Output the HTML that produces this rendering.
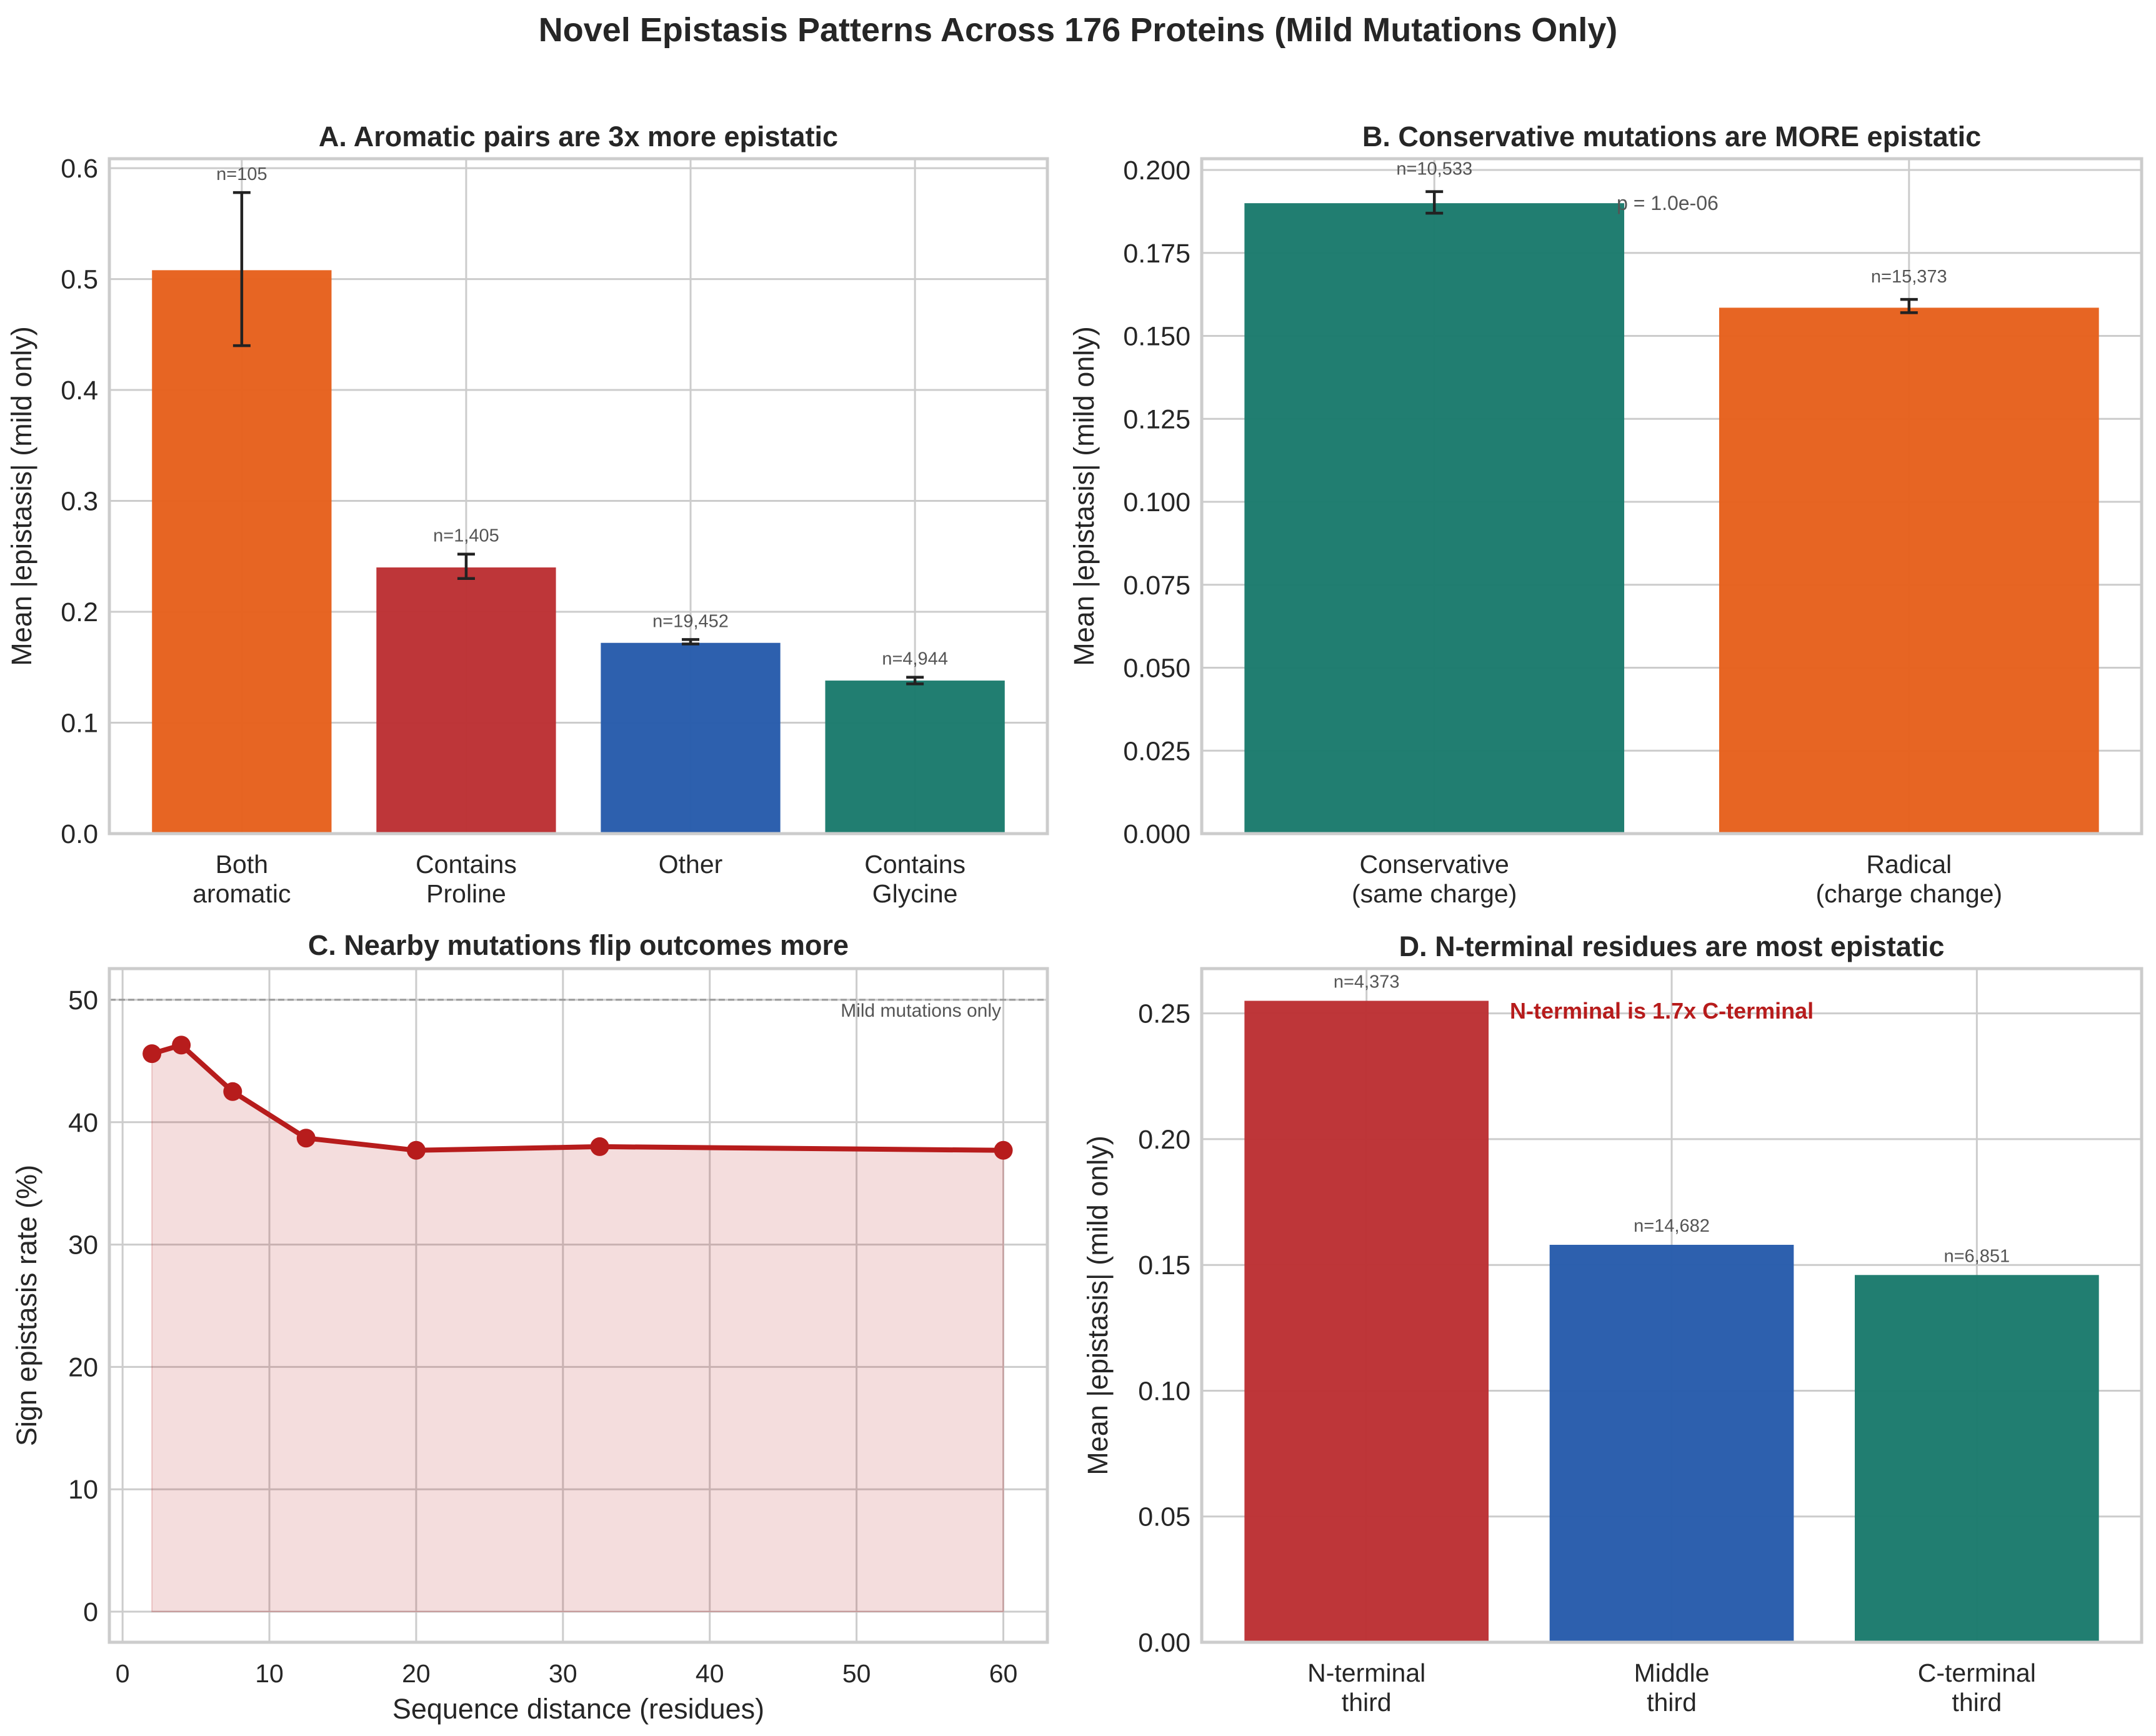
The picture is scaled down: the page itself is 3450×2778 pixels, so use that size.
<!DOCTYPE html>
<html><head><meta charset="utf-8"><style>
html,body{margin:0;padding:0;background:#fff;}
svg{display:block;font-family:"Liberation Sans",Arial,sans-serif;}
</style></head><body>
<svg id="fig" width="3450" height="2778" viewBox="0 0 3450 2778" xmlns="http://www.w3.org/2000/svg">
<rect x="0" y="0" width="3450" height="2778" fill="#fff"/>
<text x="1725" y="66" text-anchor="middle" font-size="54" font-weight="bold" fill="#262626">Novel Epistasis Patterns Across 176 Proteins (Mild Mutations Only)</text>
</svg>
<script>
// ---- Panel A data ----
const aCats = [["Both","aromatic"],["Contains","Proline"],["Other"],["Contains","Glycine"]];
const aVals = [0.508, 0.240, 0.172, 0.138];
const aErrLo = [0.440, 0.230, 0.171, 0.135];
const aErrHi = [0.578, 0.252, 0.175, 0.141];
const aN = ["n=105","n=1,405","n=19,452","n=4,944"];
const aTicks = [0.0,0.1,0.2,0.3,0.4,0.5,0.6];
const aTickLabels = ["0.0","0.1","0.2","0.3","0.4","0.5","0.6"];
// ---- Panel B data ----
const bCats = [["Conservative","(same charge)"],["Radical","(charge change)"]];
const bVals = [0.190, 0.1585];
const bErrLo = [0.187, 0.157];
const bErrHi = [0.1935, 0.161];
const bN = ["n=10,533","n=15,373"];
const bTicks = [0,0.025,0.05,0.075,0.1,0.125,0.15,0.175,0.2];
const bTickLabels = ["0.000","0.025","0.050","0.075","0.100","0.125","0.150","0.175","0.200"];
// ---- Panel C data ----
const cX = [2, 4, 7.5, 12.5, 20, 32.5, 60];
const cY = [45.6, 46.3, 42.5, 38.7, 37.7, 38.0, 37.7];
const cYTicks = [0,10,20,30,40,50];
const cXTicks = [0,10,20,30,40,50,60];
// ---- Panel D data ----
const dCats = [["N-terminal","third"],["Middle","third"],["C-terminal","third"]];
const dVals = [0.255, 0.158, 0.146];
const dN = ["n=4,373","n=14,682","n=6,851"];
const dTicks = [0,0.05,0.1,0.15,0.2,0.25];
const dTickLabels = ["0.00","0.05","0.10","0.15","0.20","0.25"];

const NS="http://www.w3.org/2000/svg";
const svg=document.getElementById('fig');
function mk(tag,attrs,parent,text){const e=document.createElementNS(NS,tag);for(const k in attrs)e.setAttribute(k,attrs[k]);if(text!==undefined)e.textContent=text;(parent||svg).appendChild(e);return e;}
const GRID="#cccccc", TXT="#262626";

function axesFrame(g,L,R,T,B){
  const r=mk('rect',{x:L,y:T,width:R-L,height:B-T,fill:'none',stroke:GRID,'stroke-width':5},g);
  
}
function yTicks(g,L,R,ys,labels,sy,fs){
  ys.forEach((v,i)=>{const y=sy(v);
    const l=mk('line',{x1:L,x2:R,y1:y,y2:y,stroke:GRID,'stroke-width':3},g);
    
    const t=mk('text',{x:L-18,y:y+15,'text-anchor':'end','font-size':fs,fill:TXT},g,labels[i]);
    
  });
}
function barPanel(o){
  const g=mk('g',{});
  const n=o.vals.length;
  const m=0.05*(n-1+0.8);
  const x0=-0.4-m, x1=n-1+0.4+m;
  const sx=v=>o.L+(v-x0)/(x1-x0)*(o.R-o.L);
  const sy=v=>o.B-(v-o.ymin)/(o.ymax-o.ymin)*(o.B-o.T);
  yTicks(g,o.L,o.R,o.ticks,o.tickLabels,sy,43);
  for(let i=0;i<n;i++){const x=sx(i);
    const l=mk('line',{x1:x,x2:x,y1:o.T,y2:o.B,stroke:GRID,'stroke-width':3},g);
    }
  const w=(sx(0.4)-sx(-0.4));
  o.vals.forEach((v,i)=>{
    const r=mk('rect',{x:sx(i)-w/2,y:sy(v),width:w,height:sy(0)-sy(v),fill:o.colors[i],'fill-opacity':0.97},g);
    
    let top=sy(v);
    if(o.lo){const x=sx(i),y1=sy(o.lo[i]),y2=sy(o.hi[i]);
      const eg=mk('g',{stroke:'#222','stroke-width':4.5},g);
      
      mk('line',{x1:x,x2:x,y1:y1,y2:y2},eg);mk('line',{x1:x-14,x2:x+14,y1:y1,y2:y1},eg);mk('line',{x1:x-14,x2:x+14,y1:y2,y2:y2},eg);
      top=y2;}
    const t=mk('text',{x:sx(i),y:top-o.nOff+10,'text-anchor':'middle','font-size':29,fill:'#555'},g,o.nlab[i]);
    
    o.cats[i].forEach((s,j)=>{const tt=mk('text',{x:sx(i),y:o.B+63+j*47,'text-anchor':'middle','font-size':41,fill:TXT},g,s);
      });
  });
  axesFrame(g,o.L,o.R,o.T,o.B);
  const tt=mk('text',{x:(o.L+o.R)/2,y:o.T-20,'text-anchor':'middle','font-size':45,'font-weight':'bold',fill:TXT},g,o.title);
  
  const yl=mk('text',{x:o.ylx,y:(o.T+o.B)/2,'text-anchor':'middle','font-size':45,fill:TXT,transform:`rotate(-90 ${o.ylx} ${(o.T+o.B)/2})`},g,'Mean |epistasis| (mild only)');
  
  return {g,sx,sy};
}
const ORG="#E6601C",RED="#BC3033",BLU="#265BAB",TEA="#1A7A6C";
barPanel({name:'panel-a',L:175,R:1676,T:254,B:1334,ymin:0,ymax:0.6085,ticks:aTicks,tickLabels:aTickLabels,
  vals:aVals,lo:aErrLo,hi:aErrHi,nlab:aN,nOff:30,cats:aCats,colors:[ORG,RED,BLU,TEA],
  title:'A. Aromatic pairs are 3x more epistatic',ylx:50});
const pb=barPanel({name:'panel-b',L:1923,R:3427,T:254,B:1334,ymin:0,ymax:0.2034,ticks:bTicks,tickLabels:bTickLabels,
  vals:bVals,lo:bErrLo,hi:bErrHi,nlab:bN,nOff:37,cats:bCats,colors:[TEA,ORG],
  title:'B. Conservative mutations are MORE epistatic',ylx:1750});
{const t=mk('text',{x:2587,y:336,'font-size':32,fill:'#555'},pb.g,'p = 1.0e-06');}
const pd=barPanel({name:'panel-d',L:1923,R:3427,T:1550,B:2628,ymin:0,ymax:0.2678,ticks:dTicks,tickLabels:dTickLabels,
  vals:dVals,nlab:dN,nOff:31,cats:dCats,colors:[RED,BLU,TEA],
  title:'D. N-terminal residues are most epistatic',ylx:1772});
{const t=mk('text',{x:2416,y:1630,'font-size':36,'font-weight':'bold',fill:'#B71C1C'},pd.g,'N-terminal is 1.7x C-terminal');}

// ---- Panel C ----
(function(){
  const L=175,R=1676,T=1550,B=2628;
  const g=mk('g',{});
  const xmin=-0.9,xmax=63, ymin=-2.5, ymax=52.55;
  const sx=v=>L+(v-xmin)/(xmax-xmin)*(R-L);
  const sy=v=>B-(v-ymin)/(ymax-ymin)*(B-T);
  yTicks(g,L,R,cYTicks,cYTicks.map(String),sy,43);
  cXTicks.forEach(v=>{const x=sx(v);
    const l=mk('line',{x1:x,x2:x,y1:T,y2:B,stroke:GRID,'stroke-width':3},g);
    
    const t=mk('text',{x:x,y:B+64,'text-anchor':'middle','font-size':41,fill:TXT},g,String(v));
    });
  let pts=cX.map((x,i)=>sx(x)+','+sy(cY[i]));
  const area=mk('polygon',{points:sx(cX[0])+','+sy(0)+' '+pts.join(' ')+' '+sx(cX[cX.length-1])+','+sy(0),fill:'#B71C1C','fill-opacity':0.15,stroke:'#B71C1C','stroke-opacity':0.2,'stroke-width':2},g);
  
  const ref=mk('line',{x1:L,x2:R,y1:sy(50),y2:sy(50),stroke:'#999','stroke-width':3,'stroke-dasharray':'10,5'},g);
  
  const ln=mk('polyline',{points:pts.join(' '),fill:'none',stroke:'#B71C1C','stroke-width':8,'stroke-linejoin':'round'},g);
  
  cX.forEach((x,i)=>{const c=mk('circle',{cx:sx(x),cy:sy(cY[i]),r:15,fill:'#B71C1C'},g);
    });
  const mt=mk('text',{x:1602,y:1627,'text-anchor':'end','font-size':30,fill:'#555'},g,'Mild mutations only');
  
  axesFrame(g,L,R,T,B);
  const tt=mk('text',{x:(L+R)/2,y:T-22,'text-anchor':'middle','font-size':45,'font-weight':'bold',fill:TXT},g,'C. Nearby mutations flip outcomes more');
  
  const xl=mk('text',{x:(L+R)/2,y:2750,'text-anchor':'middle','font-size':45,fill:TXT},g,'Sequence distance (residues)');
  
  const yl=mk('text',{x:58,y:(T+B)/2,'text-anchor':'middle','font-size':45,fill:TXT,transform:`rotate(-90 58 ${(T+B)/2})`},g,'Sign epistasis rate (%)');
  
})();
</script>
</body></html>
